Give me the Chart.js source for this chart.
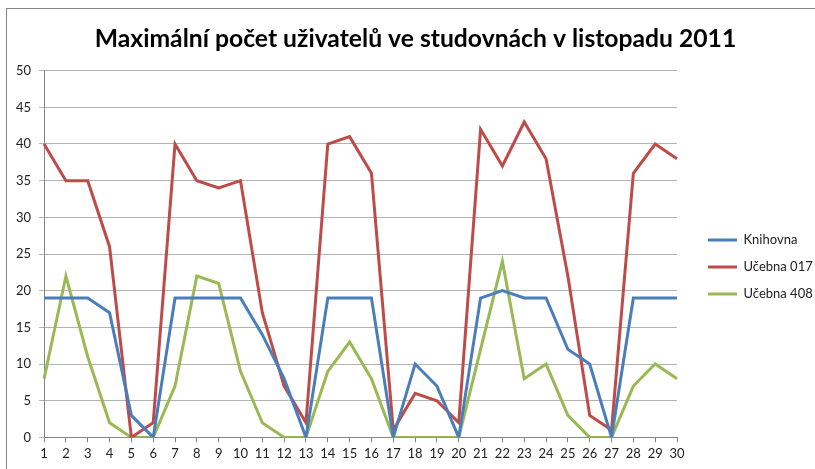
<!DOCTYPE html>
<html>
<head>
<meta charset="utf-8">
<script src="https://cdn.jsdelivr.net/npm/chart.js@4"></script>
<style>
  html, body { margin:0; padding:0; background:#fff; overflow:hidden; }
  #wrap { position:relative; width:815px; height:469px; }
  #frame { position:absolute; left:6px; top:8px; width:900px; height:600px; border:1px solid #868686; }
  canvas { position:absolute; left:0; top:0; }
</style>
</head>
<body>
<div id="wrap">
  <div id="frame"></div>
  <canvas id="chart" width="815" height="469"></canvas>
</div>
<script>
// Data: days of November 2011
const days = ["1","2","3","4","5","6","7","8","9","10","11","12","13","14","15",
              "16","17","18","19","20","21","22","23","24","25","26","27","28","29","30"];

const knihovna  = [19,19,19,17,3,0,19,19,19,19,14,8,0,19,19,19,0,10,7,0,19,20,19,19,12,10,0,19,19,19];
const ucebna017 = [40,35,35,26,0,2,40,35,34,35,17,7,2,40,41,36,1,6,5,2,42,37,43,38,22,3,1,36,40,38];
const ucebna408 = [8,22,11,2,0,0,7,22,21,9,2,0,0,9,13,8,0,0,0,0,12,24,8,10,3,0,0,7,10,8];

const yTicks = [0,5,10,15,20,25,30,35,40,45,50];

const font = "Lato, 'Open Sans', sans-serif";
Chart.defaults.font.family = font;
Chart.defaults.color = "#222";

// keep the legend narrow and move it (and the title) to where they sit in the original
const placeBoxes = {
  id: "placeBoxes",
  beforeInit(chart) {
    const fit = chart.legend.fit;
    chart.legend.fit = function () {
      fit.call(this);
      this.width = 138;
    };
  },
  afterLayout(chart) {
    const lg = chart.legend;
    const dx = 706 - 12 - lg.left;
    const dy = 30;
    lg.left += dx; lg.right += dx;
    lg.top += dy; lg.bottom += dy;
    const t = chart.titleBlock;
    t.left += 4; t.right += 4;
  }
};

new Chart(document.getElementById("chart").getContext("2d"), {
  type: "line",
  data: {
    labels: days,
    datasets: [
      { label: "Knihovna",   data: knihovna,  borderColor: "#4a7ebb", backgroundColor: "#4a7ebb" },
      { label: "Učebna 017", data: ucebna017, borderColor: "#be4b48", backgroundColor: "#be4b48" },
      { label: "Učebna 408", data: ucebna408, borderColor: "#98b954", backgroundColor: "#98b954" }
    ]
  },
  options: {
    responsive: false,
    animation: false,
    elements: {
      line: { borderWidth: 3, tension: 0 },
      point: { radius: 0, hoverRadius: 0 }
    },
    layout: { padding: { left: 8, top: 8, bottom: 3, right: 0 } },
    plugins: {
      title: {
        display: true,
        text: "Maximální počet uživatelů ve studovnách v listopadu 2011",
        color: "#000",
        font: { size: 24.7, weight: "bold", family: font },
        padding: { top: 16, bottom: 17 }
      },
      legend: {
        position: "right",
        labels: {
          boxWidth: 29,
          boxHeight: 0,
          padding: 14,
          color: "#222",
          font: { size: 13 }
        }
      },
      tooltip: { enabled: false }
    },
    scales: {
      x: {
        offset: false,
        grid: { drawOnChartArea: false, color: "#868686", tickLength: 5 },
        border: { color: "#868686" },
        ticks: { autoSkip: false, maxRotation: 0, padding: 4, font: { size: 13 } }
      },
      y: {
        min: 0,
        max: 50,
        afterBuildTicks(axis) { axis.ticks = yTicks.map(v => ({ value: v })); },
        grid: { color: "#b3b3b3", tickLength: 5 },
        border: { color: "#868686" },
        ticks: { padding: 8, font: { size: 13 } }
      }
    }
  },
  plugins: [placeBoxes]
});
</script>
</body>
</html>
